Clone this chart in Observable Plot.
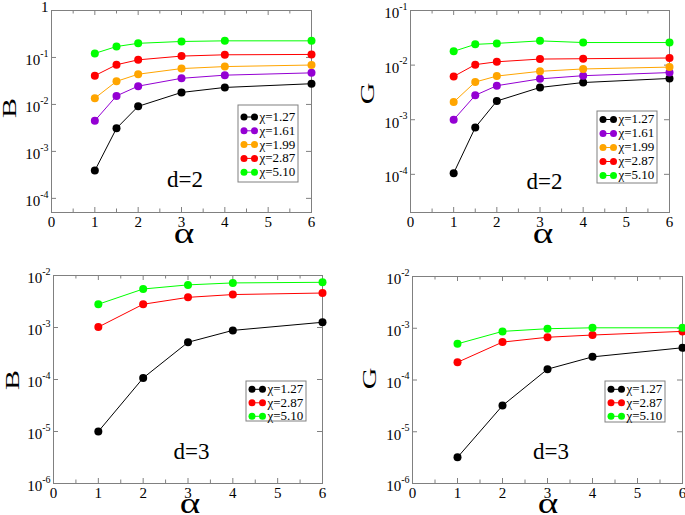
<!DOCTYPE html>
<html>
<head>
<meta charset="utf-8">
<script src="https://cdn.jsdelivr.net/npm/d3@7"></script>
<script src="https://cdn.jsdelivr.net/npm/@observablehq/plot@0.6"></script>
<style>
  html, body { margin: 0; padding: 0; background: #fff; }
  #wrap { position: relative; width: 685px; height: 515px; overflow: hidden; background: #fff; }
  .panel { position: absolute; }
  .panel svg { display: block; max-width: none !important; }
</style>
</head>
<body>
<div id="wrap"></div>
<script>
// ---------------- data ----------------
const alphaD2 = [1, 1.5, 2, 3, 4, 6];
const alphaD3 = [1, 2, 3, 4, 6];
const chiAll = ["1.27", "1.61", "1.99", "2.87", "5.10"];
const chiColors = ["#000000", "#9400d3", "#ffa500", "#ff0000", "#00ff00"];
const chiD2 = ["1.27", "1.61", "1.99", "2.87", "5.10"];
const chiD3 = ["1.27", "2.87", "5.10"];

// B, d=2
const B2_127 = [3.9e-4, 3.1e-3, 9.1e-3, 0.018, 0.023, 0.0276];
const B2_161 = [4.5e-3, 0.0152, 0.0245, 0.036, 0.042, 0.047];
const B2_199 = [0.0136, 0.031, 0.044, 0.058, 0.064, 0.069];
const B2_287 = [0.041, 0.070, 0.089, 0.107, 0.114, 0.116];
const B2_510 = [0.122, 0.171, 0.200, 0.219, 0.226, 0.226];
// G, d=2
const G2_127 = [1.05e-4, 7.2e-4, 2.2e-3, 3.9e-3, 4.8e-3, 5.7e-3];
const G2_161 = [1.0e-3, 2.8e-3, 4.2e-3, 5.6e-3, 6.4e-3, 7.3e-3];
const G2_199 = [2.1e-3, 4.9e-3, 6.3e-3, 7.7e-3, 8.5e-3, 9.2e-3];
const G2_287 = [6.2e-3, 0.0102, 0.0115, 0.0129, 0.0131, 0.0135];
const G2_510 = [0.0179, 0.024, 0.025, 0.0278, 0.0259, 0.0259];
// B, d=3
const B3_127 = [1.0e-5, 1.07e-4, 5.2e-4, 8.8e-4, 1.26e-3];
const B3_287 = [1.02e-3, 2.8e-3, 3.8e-3, 4.3e-3, 4.6e-3];
const B3_510 = [2.8e-3, 5.5e-3, 6.6e-3, 7.2e-3, 7.4e-3];
// G, d=3
const G3_127 = [3.2e-6, 3.2e-5, 1.62e-4, 2.8e-4, 4.2e-4];
const G3_287 = [2.2e-4, 5.4e-4, 6.7e-4, 7.4e-4, 8.7e-4];
const G3_510 = [5.0e-4, 8.7e-4, 9.8e-4, 1.02e-3, 1.02e-3];

// ticks
const xMajor = [0, 1, 2, 3, 4, 5, 6];
const xMinor = [0.5, 1.5, 2.5, 3.5, 4.5, 5.5];
const yTicksB2 = [1e-4, 1e-3, 1e-2, 1e-1, 1];
const yTicksG2 = [1e-4, 1e-3, 1e-2, 1e-1];
const yTicksD3 = [1e-6, 1e-5, 1e-4, 1e-3, 1e-2];

// ---------------- helpers ----------------
function series(alphas, chi, values) {
  return values.map((v, i) => ({alpha: alphas[i], chi, value: v}));
}
const colorOf = c => chiColors[chiAll.indexOf(c)];
const powFmt = d => {
  const e = Math.round(Math.log10(d));
  return e === 0 ? "1" : "10^" + e;
};
const FONT = '"Liberation Serif", "Times New Roman", serif';
const frameStroke = "#808080";

function makePanel(cfg) {
  const {left, top, width, height, ml, mr, mt, mb, yDomain, yTicks, rows, chis,
         yLabel, yLab, alphaLab, dText, dLab, leg} = cfg;
  const fw = width - ml - mr, fh = height - mt - mb;
  const svg = Plot.plot({
    width, height,
    marginLeft: ml, marginRight: mr, marginTop: mt, marginBottom: mb,
    style: {fontFamily: FONT, fontSize: "15px", background: "white", color: "black", overflow: "visible"},
    x: {domain: [0, 6]},
    y: {type: "log", domain: yDomain},
    color: {domain: chiAll, range: chiColors},
    marks: [
      Plot.frame({stroke: frameStroke}),
      Plot.tickX(xMajor, {x: d => d, stroke: frameStroke, insetTop: fh - 5}),
      Plot.tickX(xMajor, {x: d => d, stroke: frameStroke, insetBottom: fh - 5}),
      Plot.tickX(xMinor, {x: d => d, stroke: frameStroke, insetTop: fh - 3.5}),
      Plot.tickX(xMinor, {x: d => d, stroke: frameStroke, insetBottom: fh - 3.5}),
      Plot.tickY(yTicks, {y: d => d, stroke: frameStroke, insetRight: fw - 5}),
      Plot.tickY(yTicks, {y: d => d, stroke: frameStroke, insetLeft: fw - 5}),
      Plot.axisX({ticks: xMajor, tickSize: 0, tickPadding: 4, label: null, tickFormat: d => String(d)}),
      Plot.axisY({ticks: yTicks, tickSize: 0, tickPadding: 3, label: null, tickFormat: powFmt}),
      Plot.line(rows, {x: "alpha", y: "value", stroke: "chi", strokeWidth: 1}),
      Plot.dot(rows, {x: "alpha", y: "value", fill: "chi", r: 4})
    ]
  });

  const s = d3.select(svg);
  // superscript tick labels
  let ylabels = s.selectAll('g[aria-label="y-axis tick label"] text');
  if (ylabels.empty()) ylabels = s.selectAll("text").filter(function () { return this.textContent.startsWith("10^"); });
  ylabels.each(function () {
    const t = this.textContent;
    const el = d3.select(this);
    if (t.startsWith("10^")) {
      const e = t.slice(3);
      el.text("");
      el.append("tspan").attr("dy", 3).text("10");
      el.append("tspan").attr("dy", -8.5).attr("font-size", "10px").text(e);
    } else if (t === "1") {
      el.text("");
      el.append("tspan").attr("dy", -3).text("1");
    }
  });

  // axis labels
  s.append("text")
    .attr("transform", `translate(${yLab[0]},${yLab[1]}) rotate(-90) scale(1.2,0.72)`)
    .attr("text-anchor", "middle").attr("dy", "0.33em")
    .attr("font-family", FONT).attr("font-size", 25).attr("fill", "black")
    .text(yLabel);
  s.append("text")
    .attr("transform", `translate(${alphaLab[0]},${alphaLab[1]}) scale(1.35,1)`)
    .attr("text-anchor", "middle")
    .attr("font-family", FONT).attr("font-size", 29).attr("fill", "black")
    .text("α");
  s.append("text")
    .attr("x", dLab[0]).attr("y", dLab[1])
    .attr("text-anchor", "middle")
    .attr("font-family", FONT).attr("font-size", 23).attr("fill", "black")
    .text(dText);

  // legend
  const g = s.append("g").attr("font-family", FONT).attr("font-size", 13).attr("text-anchor", "start");
  g.append("rect").attr("x", leg.x).attr("y", leg.y).attr("width", leg.w).attr("height", leg.h)
    .attr("fill", "white").attr("stroke", frameStroke).attr("stroke-width", 1);
  chis.forEach((c, i) => {
    const yy = leg.y + leg.pad + i * leg.step;
    const col = colorOf(c);
    g.append("line").attr("x1", leg.x + 6).attr("x2", leg.x + 16.5).attr("y1", yy).attr("y2", yy)
      .attr("stroke", col).attr("stroke-width", 1);
    g.append("circle").attr("cx", leg.x + 6).attr("cy", yy).attr("r", 3.5).attr("fill", col);
    g.append("circle").attr("cx", leg.x + 16.5).attr("cy", yy).attr("r", 3.5).attr("fill", col);
    g.append("text").attr("x", leg.x + 21.5).attr("y", yy).attr("dy", "0.3em").attr("fill", "black")
      .attr("text-anchor", "start")
      .text("χ=" + c);
  });

  const div = document.createElement("div");
  div.className = "panel";
  div.style.left = left + "px";
  div.style.top = top + "px";
  div.style.width = width + "px";
  div.style.height = height + "px";
  div.appendChild(svg);
  document.getElementById("wrap").appendChild(div);
}

const rowsB2 = [
  ...series(alphaD2, "1.27", B2_127), ...series(alphaD2, "1.61", B2_161),
  ...series(alphaD2, "1.99", B2_199), ...series(alphaD2, "2.87", B2_287),
  ...series(alphaD2, "5.10", B2_510)
];
const rowsG2 = [
  ...series(alphaD2, "1.27", G2_127), ...series(alphaD2, "1.61", G2_161),
  ...series(alphaD2, "1.99", G2_199), ...series(alphaD2, "2.87", G2_287),
  ...series(alphaD2, "5.10", G2_510)
];
const rowsB3 = [
  ...series(alphaD3, "1.27", B3_127), ...series(alphaD3, "2.87", B3_287), ...series(alphaD3, "5.10", B3_510)
];
const rowsG3 = [
  ...series(alphaD3, "1.27", G3_127), ...series(alphaD3, "2.87", G3_287), ...series(alphaD3, "5.10", G3_510)
];

makePanel({
  left: 0, top: 0, width: 342, height: 257, ml: 51, mr: 31, mt: 10, mb: 45,
  yDomain: [5e-5, 1], yTicks: yTicksB2, rows: rowsB2, chis: chiD2,
  yLabel: "B", yLab: [10.5, 108], alphaLab: [184, 243], dText: "d=2", dLab: [185, 187],
  leg: {x: 238, y: 105, w: 60, h: 77, pad: 12, step: 13.8}
});
makePanel({
  left: 342, top: 0, width: 343, height: 257, ml: 68, mr: 16, mt: 10, mb: 45,
  yDomain: [2e-5, 0.1], yTicks: yTicksG2, rows: rowsG2, chis: chiD2,
  yLabel: "G", yLab: [26.5, 93.5], alphaLab: [201, 243], dText: "d=2", dLab: [202.5, 189],
  leg: {x: 255, y: 111, w: 60, h: 72, pad: 8.5, step: 14}
});
makePanel({
  left: 0, top: 257, width: 342, height: 258, ml: 53, mr: 20, mt: 18, mb: 32,
  yDomain: [1e-6, 1e-2], yTicks: yTicksD3, rows: rowsB3, chis: chiD3,
  yLabel: "B", yLab: [13, 123], alphaLab: [190, 256], dText: "d=3", dLab: [191.5, 202],
  leg: {x: 246, y: 124, w: 60, h: 40, pad: 8.3, step: 13.5}
});
makePanel({
  left: 342, top: 257, width: 343, height: 258, ml: 70, mr: 3, mt: 19, mb: 32,
  yDomain: [1e-6, 1e-2], yTicks: yTicksD3, rows: rowsG3, chis: chiD3,
  yLabel: "G", yLab: [28, 121.5], alphaLab: [206, 256], dText: "d=3", dLab: [209, 202],
  leg: {x: 263, y: 124, w: 60, h: 41, pad: 8.3, step: 13.5}
});
</script>
</body>
</html>
